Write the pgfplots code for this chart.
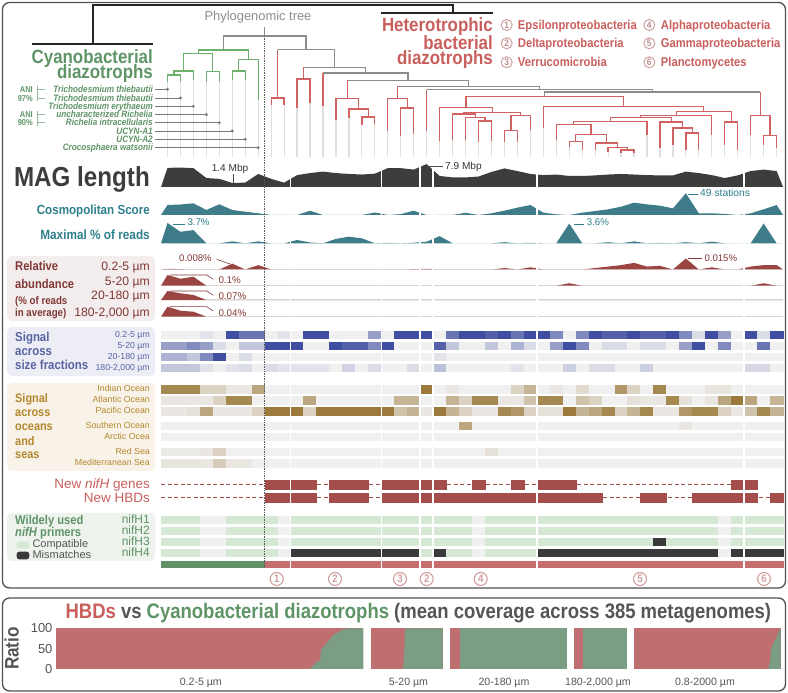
\documentclass[border=0pt]{standalone}
\usepackage{fontspec}
\setmainfont{Liberation Sans}
\newfontfamily\cond[FakeStretch=0.88]{Liberation Sans}
\usepackage{pgfplots}
\usepackage{pgfplotstable}
\pgfplotsset{compat=1.18}
\newcommand\fs[1]{\fontsize{#1}{#1}\selectfont}

\definecolor{cgreen}{RGB}{94,148,102}
\definecolor{tgreen}{RGB}{108,178,108}
\definecolor{cred}{RGB}{201,95,93}
\definecolor{tred}{RGB}{208,98,97}
\definecolor{tgray}{RGB}{140,140,140}
\definecolor{leafgray}{RGB}{222,222,222}
\definecolor{magc}{RGB}{61,61,61}
\definecolor{tealc}{RGB}{62,124,138}
\definecolor{tealtxt}{RGB}{46,127,140}
\definecolor{abred}{RGB}{155,69,66}
\definecolor{abtxt}{RGB}{128,56,54}
\definecolor{bluetxt}{RGB}{89,100,163}
\definecolor{goldtxt}{RGB}{179,136,44}
\definecolor{nifred}{RGB}{163,78,74}
\definecolor{circ}{RGB}{208,160,160}
\definecolor{dgray}{RGB}{85,85,85}
\definecolor{botred}{RGB}{191,111,111}
\definecolor{botgreen}{RGB}{122,157,132}
\definecolor{framec}{RGB}{80,80,80}
\definecolor{boxab}{RGB}{243,238,237}
\definecolor{boxsz}{RGB}{236,237,245}
\definecolor{boxoc}{RGB}{248,242,233}
\definecolor{boxpr}{RGB}{238,243,238}
\definecolor{basegray}{RGB}{232,232,232}
\definecolor{phyg}{RGB}{140,140,140}
\definecolor{lgray}{RGB}{120,120,120}
\definecolor{anig}{RGB}{150,185,155}
\definecolor{cmpgreen}{RGB}{212,232,212}
\definecolor{mmdark}{RGB}{58,58,58}

% per-MAG profiles (columns 0-47, with zero end points)
\pgfplotstableread{
i mag cos maxr a1 a2 a3 a4
-0.5 0 0 0 0 0 0 0
0 6.6 22.6 3.7 0.001 0.1 0.07 0.04
1 6.7 23.7 2.1 0.0005 0.065 0.052 0.024
2 6.5 26.4 2.4 0 0.084 0.039 0.02
3 3.1 11.3 0 0 0 0 0
4 2.8 24.2 0 0 0 0 0
5 1.4 11.3 0.35 0.008 0 0 0
6 1.5 7.5 0 0 0 0 0
7 4.5 3.8 0.35 0.006 0 0 0
8 2.8 0 0 0 0 0 0
9 1.5 0 0 0 0 0 0
10 4.1 0 0.6 0 0 0 0
11 4.8 9.7 0.15 0 0 0 0
12 5.3 0 0 0 0 0 0
13 4.8 0 0.8 0 0 0 0
14 4.5 0 1.2 0 0 0 0
15 4.3 0 0.9 0 0 0 0
16 4.6 5.6 0 0 0 0 0
17 6.5 0 0.1 0 0 0 0
18 6.5 2 0 0 0 0 0
19 6.0 9.7 0.1 0.0005 0 0 0
20 7.9 0 0.3 0.001 0 0 0
21 3.8 0 1.3 0 0 0 0
22 3.3 0 0 0 0 0 0
23 3.3 5 0 0 0 0 0
24 3.6 0 0 0 0 0 0
25 5.2 3.8 0 0 0 0 0
26 6.4 9.8 0.2 0.002 0 0 0
27 5.5 16.6 0 0 0 0 0
28 4.5 22.6 0.1 0.003 0 0 0
29 4.1 5.3 0 0 0 0 0
30 4.3 1.5 0 0 0 0 0
31 3.8 0 3.6 0 0.023 0 0
32 3.8 5.3 0 0 0 0 0
33 4.0 9 0 0.002 0 0 0
34 4.3 12.9 0.2 0.004 0 0 0
35 4.5 18.7 0 0.006 0 0 0
36 4.3 27.8 0.35 0.009 0 0 0
37 4.1 24 0 0.004 0 0 0
38 4.0 21 0.1 0.005 0 0 0
39 4.0 15 0 0 0 0 0
40 5.3 49 0.2 0.015 0 0 0
41 4.8 3.8 0 0 0 0 0
42 4.1 3.8 0.3 0.003 0 0 0
43 3.1 2.3 0 0 0 0 0
44 4.0 0 0 0 0 0 0
45 5.5 3.8 0 0.004 0 0 0
46 6.0 12.9 3.6 0.006 0.023 0 0
47 5.5 22.6 0 0.006 0 0 0
47.5 0 0 0 0 0 0 0
}\areas

% heat-map signals (0-4), primers (0 none,1 compatible,2 mismatch), taxon (0 cyano,1 HBD)
\pgfplotstableread{
i s1 s2 s3 s4 o1 o2 o3 o4 o5 o6 o7 p1 p2 p3 p4 tx
0 0 2 1.5 1 3.5 0.3 0.3 0 0 0.2 0.4 1 1 1 1 0
1 0 2 1.5 1 3.5 0.3 0.3 0 0 0.2 0.4 1 1 1 1 0
2 0 2.5 1 1 3.5 0.3 0.5 0 0 0.2 0.4 1 1 1 1 0
3 0.3 2 2.5 0.3 1 0.3 2.5 0 0 0.3 0.3 0 0 0 0 0
4 0 0.5 4 0 1 1 0.3 0 0 1 1.2 0 0 0 0 0
5 4 0 0 0.3 0.3 3.5 0.3 0 0 0 0.3 1 1 1 1 0
6 3 1 0.5 0.5 0.3 3.5 0.3 0 0 0 0.3 1 1 1 1 0
7 3 1 0 0 2.5 0 1 0 0 0 0 1 1 1 1 0
8 0 4 0 0.5 0 0 4 0 0 0 0 1 1 1 1 1
9 0.3 4 0 0.3 0 0 4 0 0 0 0 0 0 0 0 1
10 0 4 0 0.3 0 0 4 0 0 0 0 1 1 1 2 1
11 4 0 0 0.3 0 2.5 1 0 0 0 0 1 1 1 2 1
12 4 0 0 0.3 0 0 4 0 0 0 0 1 1 1 2 1
13 0 4 0 0 0 0 4 0 0 0 0 1 1 1 2 1
14 0 3.5 0 0.7 0 0 4 0 0 0 0 1 1 1 2 1
15 0 3.5 0 0 0 0 4 0 0 0 0 1 1 1 2 1
16 2 2.5 0 0.5 0 0 4 0 0 0 0 1 1 1 2 1
17 0 4 0 0 0 0 4 0 0 0 0 1 1 1 2 1
18 4 0 0 0 0 2 1.5 0 0 0 0 1 1 1 2 1
19 4 0 0 0.5 0 2 2 0 0 0 0 1 1 1 2 1
20 4 0 0 0 4 0 0.3 0 0 0 0 1 1 1 1 1
21 0 3.5 0.3 1.2 0 0 4 0 0 0 0 1 1 1 2 1
22 3 1 0 0 0.3 2 2 0 0 0 0 1 1 1 1 1
23 4 0 0 0 0 1 1 2.5 0 0 0 1 1 1 1 1
24 4 0 0 0 0 3.5 0.3 0 0 0 0 0 0 0 0 1
25 3.5 1 0 0 0 3.5 0.3 0 0 0.5 0 1 1 1 1 1
26 4 0 0 0 0 0.3 3.5 0 0 0 0 1 1 1 1 1
27 3 1.5 0 0.3 1 0.3 3 0 0 0 0 1 1 1 1 1
28 4 0.5 0 0 2 1.5 1 0 0 0 0 1 1 1 1 1
29 4 0 0 0 0 3.5 0.5 0 0 0 0 1 1 1 2 1
30 2.5 2 0 0 0.3 3.5 0.5 0 0 0 0 1 1 1 2 1
31 0 4 0 0.8 0 0 4 0 0 0 0 1 1 1 2 1
32 2.5 2.5 0 0 0.7 1.5 2 0 0 0 0 1 1 1 2 1
33 4 0 0 0.5 0 1 2.5 0 0 0 0 1 1 1 2 1
34 3.5 0.5 0 0.5 0 0 3.5 0 0 0 0 1 1 1 2 1
35 3.5 0.5 0 0 3 0 1 0 0 0 0 1 1 1 2 1
36 4 0 0 0 1 0.5 2 0 0 0 0 1 1 1 2 1
37 3.5 0.5 0 0.8 0 0.3 3.5 0 0 0 0 1 1 1 2 1
38 3.5 0.5 0 0 3.5 0.3 0.3 0 0 0 0 1 1 2 2 1
39 4 0 0 0 0 3.5 0.3 0 0 0 0 1 1 1 2 1
40 2.5 2 0 0 0 0.5 3 0.3 0 0 0 1 1 1 2 1
41 0.5 4 0 0 0 0 3.5 0 0 0 0 1 1 1 2 1
42 4 0 0 0 0.4 0.3 3.5 0 0 0 0 1 1 1 2 1
43 2 2.5 0 0 0.4 2.5 1 0 0 0 0 0 0 0 0 1
44 0 0 0 0 0 4 0.3 0 0 0 0 1 1 1 2 1
45 4 0 0 0.6 0 2.5 1.5 0 0 0 0 1 1 1 2 1
46 0.5 3 0 0.6 0 0 3.5 0 0 0 0 1 1 1 2 1
47 4 0 0 0 0 2 2 0 0 0 0 1 1 1 2 1
}\cells

\pgfplotsset{
  cell/.style={scatter, only marks, mark=square*, mark size=6.48pt,
    scatter/use mapped color={draw=mapped color, fill=mapped color}},
  bluemap/.style={colormap={blu}{rgb255=(240,240,240) rgb255=(63,78,160)}},
  brownmap/.style={colormap={brn}{rgb255=(240,240,240) rgb255=(156,122,60)}},
}

\begin{document}
\begin{tikzpicture}
\useasboundingbox (0,0) rectangle (788pt,693pt);
\begin{scope}[x=1pt,y=-1pt,shift={(0pt,693pt)}]
 \draw[framec, line width=1.3pt, rounded corners=7pt] (2.5,2.5) rectangle (785.5,588);
 \draw[framec, line width=1.3pt, rounded corners=7pt] (2.5,598) rectangle (785.5,691);
 \fill[boxab, rounded corners=5pt] (7,256) rectangle (155,321);
 \fill[boxsz, rounded corners=5pt] (7,327) rectangle (155,376);
 \fill[boxoc, rounded corners=5pt] (7,383) rectangle (155,471);
 \fill[boxpr, rounded corners=5pt] (7,513) rectangle (155,561);
 \foreach \yy in {269.5,285.7,300,316.7} \draw[basegray, line width=1.4pt] (161,\yy) -- (783,\yy);
\end{scope}

\begin{axis}[at={(0pt,0pt)}, anchor=south west, scale only axis, width=788pt, height=693pt,
  xmin=0, xmax=788, ymin=0, ymax=693, y dir=reverse, hide axis, clip=false,
  point meta min=0, point meta max=4, unbounded coords=jump]
% ---- tree: leaf extensions
\addplot[leafgray, line width=1.2pt] coordinates {
(167.48,82)(167.48,157)(nan,nan)(180.44,82)(180.44,157)(nan,nan)(193.40,80)(193.40,157)(nan,nan)
(206.36,82)(206.36,157)(nan,nan)(219.32,82)(219.32,157)(nan,nan)(232.28,80)(232.28,157)(nan,nan)
(245.24,80)(245.24,157)(nan,nan)(258.20,100)(258.20,157)(nan,nan)(271.16,105)(271.16,157)(nan,nan)
(284.12,105)(284.12,157)(nan,nan)(297.08,108)(297.08,157)(nan,nan)(310.04,103)(310.04,157)(nan,nan)
(323.00,106)(323.00,157)(nan,nan)(335.96,120)(335.96,157)(nan,nan)(348.92,118)(348.92,157)(nan,nan)
(361.88,125)(361.88,157)(nan,nan)(374.84,124)(374.84,157)(nan,nan)(387.80,131)(387.80,157)(nan,nan)
(400.76,136)(400.76,157)(nan,nan)(413.72,134)(413.72,157)(nan,nan)(426.68,131)(426.68,157)(nan,nan)
(439.64,141)(439.64,157)(nan,nan)(452.60,140)(452.60,157)(nan,nan)(465.56,140)(465.56,157)(nan,nan)
(478.52,142)(478.52,157)(nan,nan)(491.48,141)(491.48,157)(nan,nan)(504.44,142)(504.44,157)(nan,nan)
(517.40,142)(517.40,157)(nan,nan)(530.36,130)(530.36,157)(nan,nan)(543.32,128)(543.32,157)(nan,nan)
(556.28,140)(556.28,157)(nan,nan)(569.24,147)(569.24,157)(nan,nan)(582.20,150)(582.20,157)(nan,nan)
(595.16,150)(595.16,157)(nan,nan)(608.12,152)(608.12,157)(nan,nan)(621.08,153)(621.08,157)(nan,nan)
(634.04,153)(634.04,157)(nan,nan)(647.00,135)(647.00,157)(nan,nan)(659.96,148)(659.96,157)(nan,nan)
(672.92,145)(672.92,157)(nan,nan)(685.88,150)(685.88,157)(nan,nan)(698.84,150)(698.84,157)(nan,nan)
(711.80,135)(711.80,157)(nan,nan)(724.76,145)(724.76,157)(nan,nan)(737.72,150)(737.72,157)(nan,nan)
(750.68,135)(750.68,157)(nan,nan)(763.64,145)(763.64,157)(nan,nan)(776.60,148)(776.60,157)};
% ---- tree: gray backbone
\addplot[tgray, line width=1.3pt] coordinates {
(264.7,27)(264.7,36)(nan,nan)
(223.37,50)(223.37,36)(306.08,36)(306.08,49.7)(nan,nan)
(277.64,49.7)(334.52,49.7)(334.52,67.3)(nan,nan)
(303.56,67.3)(365.47,67.3)(365.47,73)(nan,nan)
(323.00,73)(407.94,73)(407.94,80.3)(nan,nan)
(347.30,80.3)(468.58,80.3)(468.58,86.3)(nan,nan)
(397.52,86.3)(539.63,86.3)(539.63,89.7)(nan,nan)
(426.68,89.7)(652.58,89.7)(652.58,92)(nan,nan)
(544.76,96.5)(544.76,92)(760.40,92)};
% ---- tree: heterotrophic clades
\addplot[tred, line width=1.3pt] coordinates {
(277.64,49.7)(277.64,98)(nan,nan)(303.56,67.3)(303.56,79)(nan,nan)(323.00,73)(323.00,106)(nan,nan)
(347.30,80.3)(347.30,98.7)(nan,nan)(397.52,86.3)(397.52,98.7)(nan,nan)(426.68,89.7)(426.68,131)(nan,nan)
(760.40,92)(760.40,115.3)(nan,nan)
(271.16,105)(271.16,98)(284.12,98)(284.12,105)(nan,nan)
(297.08,108)(297.08,79)(310.04,79)(310.04,103)(nan,nan)
(335.96,120)(335.96,98.7)(358.64,98.7)(358.64,109)(nan,nan)
(348.92,118)(348.92,109)(368.36,109)(368.36,117)(nan,nan)
(361.88,125)(361.88,117)(374.84,117)(374.84,124)(nan,nan)
(387.80,131)(387.80,98.7)(407.24,98.7)(407.24,108)(nan,nan)
(400.76,136)(400.76,108)(413.72,108)(413.72,134)(nan,nan)
(465.97,107.3)(465.97,96.5)(623.55,96.5)(623.55,106.3)(nan,nan)
(439.64,141)(439.64,107.3)(492.29,107.3)(492.29,112.7)(nan,nan)
(463.94,114)(463.94,112.7)(520.64,112.7)(520.64,115.3)(nan,nan)
(452.60,140)(452.60,114)(475.28,114)(475.28,117.5)(nan,nan)
(465.56,140)(465.56,117.5)(485.00,117.5)(485.00,121)(nan,nan)
(478.52,142)(478.52,121)(491.48,121)(491.48,141)(nan,nan)
(510.92,130.7)(510.92,115.3)(530.36,115.3)(530.36,130)(nan,nan)
(504.44,142)(504.44,130.7)(517.40,130.7)(517.40,142)(nan,nan)
(543.32,128)(543.32,106.3)(703.78,106.3)(703.78,111.3)(nan,nan)
(676.31,115.3)(676.31,111.3)(731.24,111.3)(731.24,122)(nan,nan)
(640.83,117.3)(640.83,115.3)(711.80,115.3)(711.80,135)(nan,nan)
(724.76,145)(724.76,122)(737.72,122)(737.72,150)(nan,nan)
(610.35,121.3)(610.35,117.3)(671.30,117.3)(671.30,122)(nan,nan)
(573.70,124.7)(573.70,121.3)(647.00,121.3)(647.00,135)(nan,nan)
(556.28,140)(556.28,124.7)(591.11,124.7)(591.11,134.7)(nan,nan)
(575.72,141.3)(575.72,134.7)(606.50,134.7)(606.50,143)(nan,nan)
(569.24,147)(569.24,141.3)(582.20,141.3)(582.20,150)(nan,nan)
(595.16,150)(595.16,143)(617.84,143)(617.84,147.3)(nan,nan)
(608.12,152)(608.12,147.3)(627.56,147.3)(627.56,150)(nan,nan)
(621.08,153)(621.08,150)(634.04,150)(634.04,153)(nan,nan)
(659.96,148)(659.96,122)(682.64,122)(682.64,128)(nan,nan)
(672.92,145)(672.92,128)(692.36,128)(692.36,133)(nan,nan)
(685.88,150)(685.88,133)(698.84,133)(698.84,150)(nan,nan)
(750.68,135)(750.68,115.3)(770.12,115.3)(770.12,135.3)(nan,nan)
(763.64,145)(763.64,135.3)(776.60,135.3)(776.60,148)};
% ---- tree: cyanobacteria
\addplot[tgreen, line width=1.3pt] coordinates {
(198.26,53.3)(198.26,50)(248.48,50)(248.48,59.3)(nan,nan)
(183.68,71)(183.68,53.3)(212.84,53.3)(212.84,71.7)(nan,nan)
(173.96,75)(173.96,71)(193.40,71)(193.40,80)(nan,nan)
(167.48,82)(167.48,75)(180.44,75)(180.44,82)(nan,nan)
(206.36,82)(206.36,71.7)(219.32,71.7)(219.32,82)(nan,nan)
(238.76,71)(238.76,59.3)(258.20,59.3)(258.20,100)(nan,nan)
(232.28,80)(232.28,71)(245.24,71)(245.24,80)};

% ---- area profiles
\addplot[fill=magc, draw=none] table[x expr=167.48+12.96*\thisrow{i}, y expr=187-2.9*\thisrow{mag}] {\areas};
\addplot[fill=tealc, draw=none] table[x expr=167.48+12.96*\thisrow{i}, y expr=215-0.443*\thisrow{cos}] {\areas};
\addplot[fill=tealc, draw=none] table[x expr=167.48+12.96*\thisrow{i}, y expr=243.3-5.5*\thisrow{maxr}] {\areas};
\addplot[fill=abred, draw=none] table[x expr=167.48+12.96*\thisrow{i}, y expr=269.5-733*\thisrow{a1}] {\areas};
\addplot[fill=abred, draw=none] table[x expr=167.48+12.96*\thisrow{i}, y expr=285.7-107*\thisrow{a2}] {\areas};
\addplot[fill=abred, draw=none] table[x expr=167.48+12.96*\thisrow{i}, y expr=300-129*\thisrow{a3}] {\areas};
\addplot[fill=abred, draw=none] table[x expr=167.48+12.96*\thisrow{i}, y expr=316.7-250*\thisrow{a4}] {\areas};

% ---- size fraction heat map
\addplot[cell, bluemap, mark options={yscale=0.563, line width=0.2pt}, point meta={\thisrow{s1}}] table[x expr=167.48+12.96*\thisrow{i}, y expr=334.7] {\cells};
\addplot[cell, bluemap, mark options={yscale=0.563, line width=0.2pt}, point meta={\thisrow{s2}}] table[x expr=167.48+12.96*\thisrow{i}, y expr=345.7] {\cells};
\addplot[cell, bluemap, mark options={yscale=0.563, line width=0.2pt}, point meta={\thisrow{s3}}] table[x expr=167.48+12.96*\thisrow{i}, y expr=356.7] {\cells};
\addplot[cell, bluemap, mark options={yscale=0.563, line width=0.2pt}, point meta={\thisrow{s4}}] table[x expr=167.48+12.96*\thisrow{i}, y expr=367.7] {\cells};
% ---- ocean heat map
\addplot[cell, brownmap, mark options={yscale=0.563, line width=0.2pt}, point meta={\thisrow{o1}}] table[x expr=167.48+12.96*\thisrow{i}, y expr=389] {\cells};
\addplot[cell, brownmap, mark options={yscale=0.563, line width=0.2pt}, point meta={\thisrow{o2}}] table[x expr=167.48+12.96*\thisrow{i}, y expr=400] {\cells};
\addplot[cell, brownmap, mark options={yscale=0.563, line width=0.2pt}, point meta={\thisrow{o3}}] table[x expr=167.48+12.96*\thisrow{i}, y expr=411] {\cells};
\addplot[cell, brownmap, mark options={yscale=0.563, line width=0.2pt}, point meta={\thisrow{o4}}] table[x expr=167.48+12.96*\thisrow{i}, y expr=425.7] {\cells};
\addplot[cell, brownmap, mark options={yscale=0.563, line width=0.2pt}, point meta={\thisrow{o5}}] table[x expr=167.48+12.96*\thisrow{i}, y expr=436.7] {\cells};
\addplot[cell, brownmap, mark options={yscale=0.563, line width=0.2pt}, point meta={\thisrow{o6}}] table[x expr=167.48+12.96*\thisrow{i}, y expr=451.7] {\cells};
\addplot[cell, brownmap, mark options={yscale=0.563, line width=0.2pt}, point meta={\thisrow{o7}}] table[x expr=167.48+12.96*\thisrow{i}, y expr=463] {\cells};

% ---- new nifH genes / new HBDs
\addplot[nifred, line width=0.9pt, dash pattern=on 4pt off 2.5pt] coordinates {(161,484.5)(757.7,484.5)};
\addplot[nifred, line width=0.9pt, dash pattern=on 4pt off 2.5pt] coordinates {(161,497.8)(783,497.8)};
\addplot[only marks, mark=square*, mark size=6.48pt, mark options={yscale=0.69, fill=nifred, draw=nifred, line width=0.2pt}]
  table[x expr=167.48+12.96*\thisrow{i}, y expr=484.5, row sep=\\] {i\\8\\9\\10\\11\\13\\14\\15\\17\\18\\19\\20\\21\\24\\27\\29\\30\\31\\44\\45\\};
\addplot[only marks, mark=square*, mark size=6.48pt, mark options={yscale=0.69, fill=nifred, draw=nifred, line width=0.2pt}]
  table[x expr=167.48+12.96*\thisrow{i}, y expr=497.8, row sep=\\] {i\\8\\9\\10\\11\\13\\14\\15\\17\\18\\19\\20\\21\\22\\23\\24\\25\\26\\27\\28\\29\\30\\31\\32\\33\\37\\38\\41\\42\\43\\44\\45\\47\\};

% ---- primers
\addplot[cell, colormap={pr}{rgb255=(240,240,240) rgb255=(212,232,212) rgb255=(58,58,58)}, mark options={yscale=0.54, line width=0.2pt}, point meta={2*\thisrow{p1}}] table[x expr=167.48+12.96*\thisrow{i}, y expr=520] {\cells};
\addplot[cell, colormap={pr}{rgb255=(240,240,240) rgb255=(212,232,212) rgb255=(58,58,58)}, mark options={yscale=0.54, line width=0.2pt}, point meta={2*\thisrow{p2}}] table[x expr=167.48+12.96*\thisrow{i}, y expr=530.7] {\cells};
\addplot[cell, colormap={pr}{rgb255=(240,240,240) rgb255=(212,232,212) rgb255=(58,58,58)}, mark options={yscale=0.54, line width=0.2pt}, point meta={2*\thisrow{p3}}] table[x expr=167.48+12.96*\thisrow{i}, y expr=541.4] {\cells};
\addplot[cell, colormap={pr}{rgb255=(240,240,240) rgb255=(212,232,212) rgb255=(58,58,58)}, mark options={yscale=0.54, line width=0.2pt}, point meta={2*\thisrow{p4}}] table[x expr=167.48+12.96*\thisrow{i}, y expr=552.1] {\cells};
% ---- taxon bar
\addplot[cell, colormap={tx}{rgb255=(98,145,104) rgb255=(196,110,110)}, mark options={yscale=0.52, line width=0.2pt}, point meta={4*\thisrow{tx}}] table[x expr=167.48+12.96*\thisrow{i}, y expr=564] {\cells};
\end{axis}

% ---- bottom panel: HBD vs cyanobacteria ratio
\begin{axis}[at={(56pt,24pt)}, anchor=south west, scale only axis, width=724.7pt, height=40.7pt,
  xmin=56, xmax=780.7, ymin=0, ymax=100, hide x axis, axis y line*=left,
  y axis line style={draw=none}, ytick={0,50,100}, ytick style={draw=none},
  yticklabel style={font=\fs{13}, text=dgray}, /pgf/number format/assume math mode=true, clip=false]
\addplot[fill=botred, draw=none] table[row sep=\\, x expr=56+3.073*\thisrow{p}, y=g] {p g\\0 0\\100 0\\100 100\\0 100\\};
\addplot[fill=botgreen, draw=none] table[row sep=\\, x expr=56+3.073*\thisrow{p}, y=g] {p g\\82.7 0\\84.4 14\\86 22\\86.2 47\\87.6 59\\89.3 75\\90.3 84\\93.6 98\\95.5 100\\100 100\\100 0\\};
\addplot[fill=botred, draw=none] table[row sep=\\, x expr=370.7+0.72*\thisrow{p}, y=g] {p g\\0 0\\100 0\\100 100\\0 100\\};
\addplot[fill=botgreen, draw=none] table[row sep=\\, x expr=370.7+0.72*\thisrow{p}, y=g] {p g\\45 0\\46.5 40\\47 60\\47.6 100\\100 100\\100 0\\};
\addplot[fill=botred, draw=none] table[row sep=\\, x expr=450+1.173*\thisrow{p}, y=g] {p g\\0 0\\100 0\\100 100\\0 100\\};
\addplot[fill=botgreen, draw=none] table[row sep=\\, x expr=450+1.173*\thisrow{p}, y=g] {p g\\8.5 0\\8.5 100\\100 100\\100 0\\};
\addplot[fill=botred, draw=none] table[row sep=\\, x expr=574.3+0.53*\thisrow{p}, y=g] {p g\\0 0\\100 0\\100 100\\0 100\\};
\addplot[fill=botgreen, draw=none] table[row sep=\\, x expr=574.3+0.53*\thisrow{p}, y=g] {p g\\15.7 0\\15.7 100\\100 100\\100 0\\};
\addplot[fill=botred, draw=none] table[row sep=\\, x expr=634.3+1.464*\thisrow{p}, y=g] {p g\\0 0\\100 0\\100 100\\0 100\\};
\addplot[fill=botgreen, draw=none] table[row sep=\\, x expr=634.3+1.464*\thisrow{p}, y=g] {p g\\91.5 0\\92.7 18\\93.8 55\\97.3 79\\99.1 96\\100 100\\100 0\\};
\end{axis}

\begin{scope}[x=1pt,y=-1pt,shift={(0pt,693pt)}]
 % group separators
 \foreach \xx in {290.6,381.3,420.2,433.2,536.8,744.2} \draw[white, line width=1.5pt] (\xx,158) -- (\xx,568);
 \draw[black!65, line width=0.7pt, densely dotted] (264.7,36) -- (264.7,567);
 % header
 \node[anchor=base, inner sep=0, text=phyg, font=\fs{12.9}] at (258,20.7) {Phylogenomic tree};
 \draw[black!85, line width=2.2pt] (93,44) -- (93,5) -- (453,5) -- (453,13);
 \draw[black!85, line width=1.5pt] (32,44) -- (153,44);
 \draw[black!85, line width=1.5pt] (381,13) -- (493,13);
 \node[anchor=base east, inner sep=0, text=cgreen, font=\cond\bfseries\fs{19.2}] at (153,63.3) {Cyanobacterial};
 \node[anchor=base east, inner sep=0, text=cgreen, font=\cond\bfseries\fs{19.2}] at (153,78.3) {diazotrophs};
 \node[anchor=base east, inner sep=0, text=cred, font=\cond\bfseries\fs{19.2}] at (493,31.7) {Heterotrophic};
 \node[anchor=base east, inner sep=0, text=cred, font=\cond\bfseries\fs{19.2}] at (493,50) {bacterial};
 \node[anchor=base east, inner sep=0, text=cred, font=\cond\bfseries\fs{19.2}] at (493,65) {diazotrophs};
 \foreach \n/\t/\yy in {1/Epsilonproteobacteria/25,2/Deltaproteobacteria/43.3,3/Verrucomicrobia/62.3}{
   \node[circle, draw=circ, line width=1pt, minimum size=11pt, inner sep=0, text=circ!90!black, font=\cond\bfseries\fs{9.5}] at (506.7,\yy) {\n};
   \node[anchor=base west, inner sep=0, text=cred, font=\cond\bfseries\fs{12.8}] at (517.7,\yy+4.3) {\t};}
 \foreach \n/\t/\yy in {4/Alphaproteobacteria/25,5/Gammaproteobacteria/43.3,6/Planctomycetes/62.3}{
   \node[circle, draw=circ, line width=1pt, minimum size=11pt, inner sep=0, text=circ!90!black, font=\cond\bfseries\fs{9.5}] at (649.3,\yy) {\n};
   \node[anchor=base west, inner sep=0, text=cred, font=\cond\bfseries\fs{12.8}] at (660.7,\yy+4.3) {\t};}
 % species
 \foreach \t/\yy/\xx in {Trichodesmium thiebautii/89.3/167.48,Trichodesmium thiebautii/98/180.44,Trichodesmium erythaeum/106.3/193.40,uncharacterized Richelia/114.7/206.36,Richelia intracellularis/122.7/219.32,UCYN-A1/131/232.28,UCYN-A2/139.3/245.24,Crocosphaera watsonii/147.7/258.20}{
   \node[anchor=base east, inner sep=0, text=cgreen, font=\cond\bfseries\itshape\fs{9.3}] at (153,\yy+3.2) {\t};
   \draw[lgray, line width=0.8pt] (155,\yy) -- (\xx,\yy);
   \fill[lgray] (\xx,\yy) circle (1.6);}
 \node[anchor=base east, inner sep=0, text=cgreen, font=\cond\bfseries\fs{8.5}] at (33,92.5) {ANI};
 \node[anchor=base east, inner sep=0, text=cgreen, font=\cond\bfseries\fs{8.5}] at (33,101.2) {97\%};
 \node[anchor=base east, inner sep=0, text=cgreen, font=\cond\bfseries\fs{8.5}] at (33,117.9) {ANI};
 \node[anchor=base east, inner sep=0, text=cgreen, font=\cond\bfseries\fs{8.5}] at (33,125.9) {90\%};
 \draw[anig, line width=0.9pt] (37.7,86) -- (37.7,101) (37.7,89.3) -- (45,89.3) (37.7,98) -- (45,98);
 \draw[anig, line width=0.9pt] (37.7,111.5) -- (37.7,126) (37.7,114.7) -- (45,114.7) (37.7,122.7) -- (45,122.7);
 % profile labels
 \node[anchor=base east, inner sep=0, text=magc, font=\cond\bfseries\fs{27.5}] at (150,186.7) {MAG length};
 \node[anchor=base, inner sep=0, text=black!80, font=\fs{10.1}] at (230,171.7) {1.4 Mbp};
 \draw[black!70, line width=0.6pt] (233.3,174) -- (233.3,183);
 \node[anchor=base west, inner sep=0, text=black!80, font=\fs{10.1}] at (445,169.3) {7.9 Mbp};
 \draw[black!70, line width=0.6pt] (428.3,166) -- (443,166);
 \node[anchor=base east, inner sep=0, text=tealtxt, font=\cond\bfseries\fs{13.2}] at (150,214.3) {Cosmopolitan Score};
 \node[anchor=base east, inner sep=0, text=tealtxt, font=\cond\bfseries\fs{13.4}] at (150,240) {Maximal \% of reads};
 \node[anchor=base west, inner sep=0, text=tealtxt, font=\fs{10.3}] at (700,196.7) {49 stations};
 \draw[tealtxt, line width=0.6pt] (688.3,194) -- (698.3,194);
 \node[anchor=base west, inner sep=0, text=tealtxt, font=\fs{9.7}] at (187.3,226) {3.7\%};
 \draw[tealtxt, line width=0.6pt] (173.3,224) -- (185,224);
 \node[anchor=base west, inner sep=0, text=tealtxt, font=\fs{9.7}] at (586.7,226) {3.6\%};
 \draw[tealtxt, line width=0.6pt] (574,224) -- (584,224);
 % relative abundance
 \node[anchor=base west, inner sep=0, text=abtxt, font=\cond\bfseries\fs{12.7}] at (15,271) {Relative};
 \node[anchor=base west, inner sep=0, text=abtxt, font=\cond\bfseries\fs{12.7}] at (15,288.3) {abundance};
 \node[anchor=base west, inner sep=0, text=abtxt, font=\cond\bfseries\fs{11}] at (15,305) {(\% of reads};
 \node[anchor=base west, inner sep=0, text=abtxt, font=\cond\bfseries\fs{11}] at (15,316.7) {in average)};
 \node[anchor=base east, inner sep=0, text=abtxt, font=\fs{12.2}] at (150,270.7) {0.2-5 µm};
 \node[anchor=base east, inner sep=0, text=abtxt, font=\fs{12.2}] at (150,285.7) {5-20 µm};
 \node[anchor=base east, inner sep=0, text=abtxt, font=\fs{12.2}] at (150,300) {20-180 µm};
 \node[anchor=base east, inner sep=0, text=abtxt, font=\fs{12.2}] at (150,316.7) {180-2,000 µm};
 \node[anchor=base west, inner sep=0, text=abtxt, font=\fs{9.6}] at (179,261.7) {0.008\%};
 \draw[abtxt, line width=0.6pt] (216.7,259.3) -- (230,264);
 \node[anchor=base west, inner sep=0, text=abtxt, font=\fs{9.6}] at (704.3,261.7) {0.015\%};
 \draw[abtxt, line width=0.6pt] (688.3,258.3) -- (701.7,258.3);
 \node[anchor=base west, inner sep=0, text=abtxt, font=\fs{9.8}] at (218.3,283.3) {0.1\%};
 \draw[abtxt, line width=0.6pt] (170,275) -- (206.7,275) -- (213.3,279.3);
 \node[anchor=base west, inner sep=0, text=abtxt, font=\fs{9.8}] at (218.3,299.3) {0.07\%};
 \draw[abtxt, line width=0.6pt] (170,291) -- (206.7,291) -- (213.3,295.3);
 \node[anchor=base west, inner sep=0, text=abtxt, font=\fs{9.8}] at (218.3,316.7) {0.04\%};
 \draw[abtxt, line width=0.6pt] (170,306.7) -- (206.7,306.7) -- (213.3,311);
 % size fractions
 \node[anchor=base west, inner sep=0, text=bluetxt, font=\cond\bfseries\fs{13}] at (15,341.7) {Signal};
 \node[anchor=base west, inner sep=0, text=bluetxt, font=\cond\bfseries\fs{13}] at (15,356) {across};
 \node[anchor=base west, inner sep=0, text=bluetxt, font=\cond\bfseries\fs{13}] at (15,370) {size fractions};
 \node[anchor=base east, inner sep=0, text=bluetxt, font=\fs{8.75}] at (150,337.7) {0.2-5 µm};
 \node[anchor=base east, inner sep=0, text=bluetxt, font=\fs{8.75}] at (150,348.7) {5-20 µm};
 \node[anchor=base east, inner sep=0, text=bluetxt, font=\fs{8.75}] at (150,359.7) {20-180 µm};
 \node[anchor=base east, inner sep=0, text=bluetxt, font=\fs{8.75}] at (150,370.7) {180-2,000 µm};
 % oceans
 \node[anchor=base west, inner sep=0, text=goldtxt, font=\cond\bfseries\fs{12.4}] at (15,402.7) {Signal};
 \node[anchor=base west, inner sep=0, text=goldtxt, font=\cond\bfseries\fs{12.4}] at (15,416.7) {across};
 \node[anchor=base west, inner sep=0, text=goldtxt, font=\cond\bfseries\fs{12.4}] at (15,430.7) {oceans};
 \node[anchor=base west, inner sep=0, text=goldtxt, font=\cond\bfseries\fs{12.4}] at (15,445.3) {and};
 \node[anchor=base west, inner sep=0, text=goldtxt, font=\cond\bfseries\fs{12.4}] at (15,458.7) {seas};
 \foreach \t/\yy in {Indian Ocean/389,Atlantic Ocean/400,Pacific Ocean/411,Southern Ocean/425.7,Arctic Ocea/436.7,Red Sea/451.7,Mediterranean Sea/463}
   \node[anchor=base east, inner sep=0, text=goldtxt, font=\fs{8.8}] at (150,\yy+3) {\t};
 % new genes
 \node[anchor=base east, inner sep=0, text=cred, font=\fs{13.5}] at (150,488.8) {New \textit{nifH} genes};
 \node[anchor=base east, inner sep=0, text=cred, font=\fs{13.5}] at (150,502.3) {New HBDs};
 % primers
 \node[anchor=base west, inner sep=0, text=cgreen, font=\cond\bfseries\fs{12.7}] at (15,525) {Wildely used};
 \node[anchor=base west, inner sep=0, text=cgreen, font=\cond\bfseries\fs{12.7}] at (15,536.7) {\textit{nifH} primers};
 \fill[cmpgreen, rounded corners=2pt] (16.7,541.7) rectangle (29.3,548.3);
 \fill[mmdark, rounded corners=2.5pt] (16.7,551.7) rectangle (29.3,559.3);
 \node[anchor=base west, inner sep=0, text=dgray, font=\fs{11}] at (32.3,547.7) {Compatible};
 \node[anchor=base west, inner sep=0, text=dgray, font=\fs{11}] at (32.3,558.7) {Mismatches};
 \foreach \t/\yy in {nifH1/524,nifH2/534.7,nifH3/545.4,nifH4/556.1}
   \node[anchor=base east, inner sep=0, text=cgreen, font=\fs{12}] at (150,\yy) {\t};
 % clade numbers
 \foreach \n/\xx in {1/276.7,2/335,3/400,2/426.7,4/480.7,5/640,6/764}
   \node[circle, draw=circ, line width=1.1pt, minimum size=13pt, inner sep=0, text=circ, font=\cond\bfseries\fs{11}] at (\xx,579) {\n};
 % bottom panel texts
 \node[anchor=base, inner sep=0, font=\cond\bfseries\fs{21}] at (418.4,618.3) {\textcolor{cred}{HBDs} \textcolor{dgray}{vs} \textcolor{cgreen}{Cyanobacterial diazotrophs} \textcolor{dgray}{(mean coverage across 385 metagenomes)}};
 \node[rotate=90, anchor=base, inner sep=0, text=dgray, font=\cond\bfseries\fs{19.5}] at (18.5,648.5) {Ratio};
 \foreach \t/\xx in {0.2-5 µm/200.8,5-20 µm/408.5,20-180 µm/504,{180-2,000 µm}/598,0.8-2000 µm/705}
   \node[anchor=base, inner sep=0, text=dgray, font=\fs{10.6}] at (\xx,685.7) {\t};
\end{scope}
\end{tikzpicture}
\end{document}
